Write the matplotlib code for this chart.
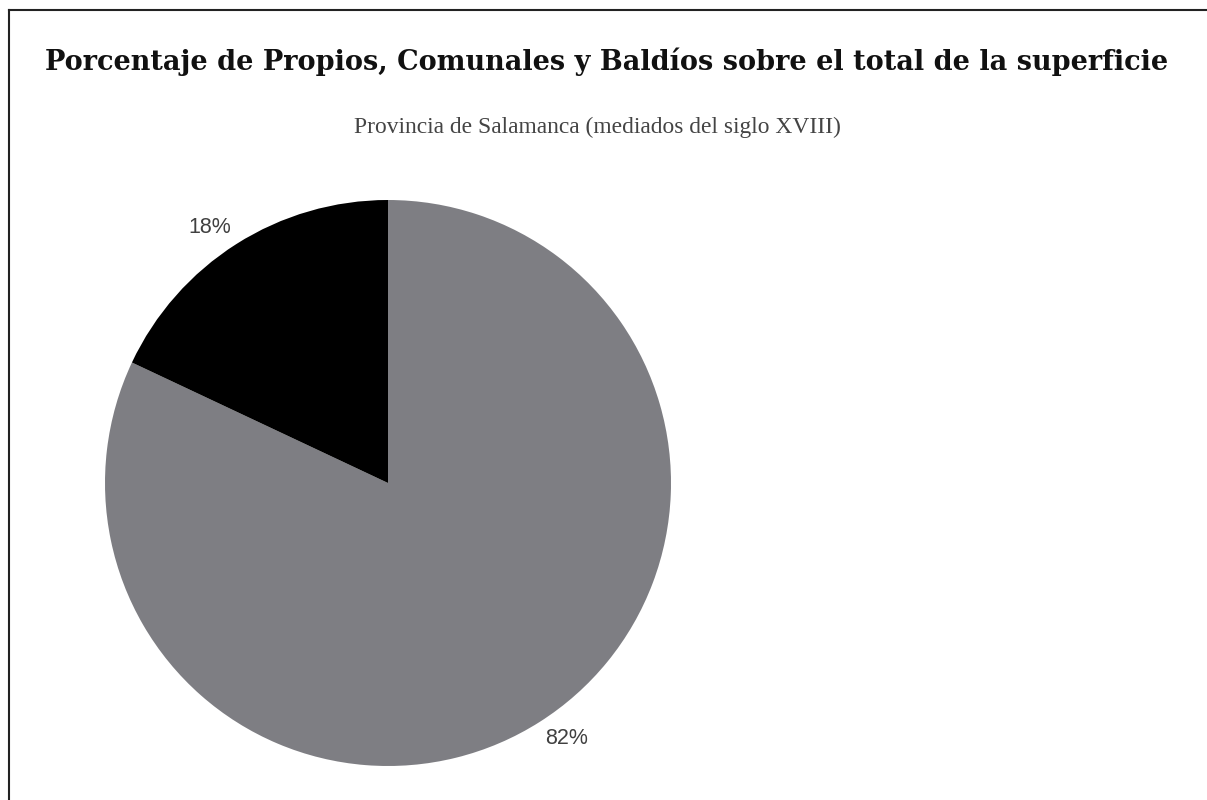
import matplotlib
matplotlib.use("Agg")
import matplotlib.pyplot as plt
from matplotlib.lines import Line2D
import numpy as np

categories = ["Otros", "Propios, Comunales y Baldíos"]
values = [82, 18]
colors = ["#7e7e83", "#000000"]

fig = plt.figure(figsize=(12.07, 8.0), dpi=100)
fig.patch.set_facecolor("white")

fig.text(607 / 1207, 1 - 62 / 800, "Porcentaje de Propios, Comunales y Baldíos sobre el total de la superficie",
         ha="center", va="center", fontsize=19.5, fontweight="bold",
         family=["DejaVu Serif"], color="#111111")
fig.text(597 / 1207, 1 - 127 / 800, "Provincia de Salamanca (mediados del siglo XVIII)",
         ha="center", va="center", fontsize=16.9,
         family=["Liberation Serif", "DejaVu Serif"], color="#444444")

ax = fig.add_axes([105 / 1207, 34 / 800, 566 / 1207, 566 / 800])
wedges, texts, autotexts = ax.pie(
    values, colors=colors, startangle=90, counterclock=False,
    autopct=lambda p: f"{p:.0f}%", pctdistance=1.1,
    textprops=dict(fontsize=15.5, color="#404040", family=["Liberation Sans", "DejaVu Sans"]),
    wedgeprops=dict(linewidth=0),
)
# slight counterclockwise nudge of the percentage labels, as in the reference
for w, t in zip(wedges, autotexts):
    mid = np.deg2rad((w.theta1 + w.theta2) / 2 + 2.5)
    t.set_position((1.1 * np.cos(mid), 1.1 * np.sin(mid)))
ax.set_aspect("equal")
ax.set_xlim(-1, 1)
ax.set_ylim(-1, 1)

fig.add_artist(Line2D([9 / 1207, 9 / 1207], [0, 1 - 10 / 800], transform=fig.transFigure,
                      color="#222222", linewidth=1.5))
fig.add_artist(Line2D([9 / 1207, 1], [1 - 10 / 800, 1 - 10 / 800], transform=fig.transFigure,
                      color="#222222", linewidth=1.5))

fig.savefig("out.png", dpi=100, facecolor="white")
